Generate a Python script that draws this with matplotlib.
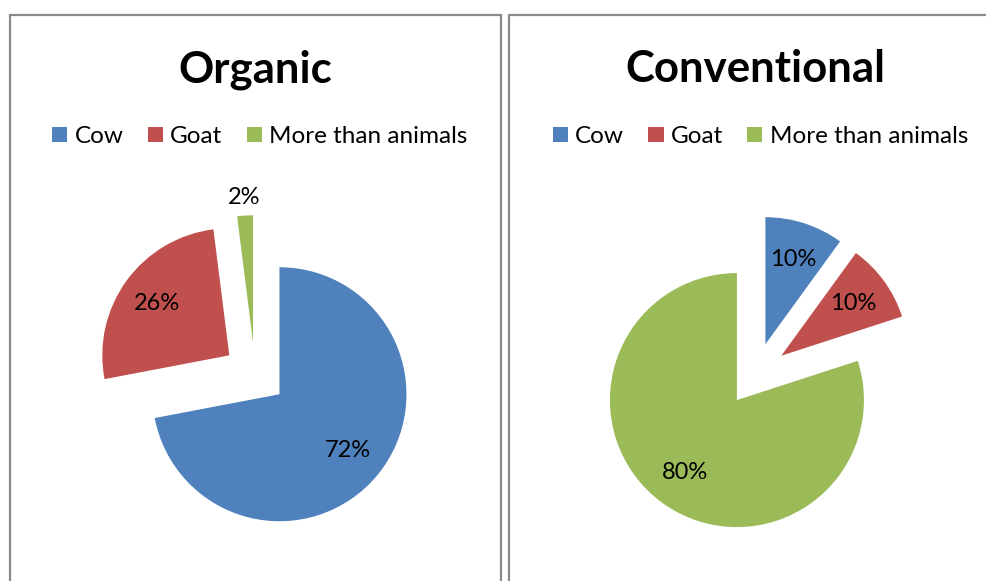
import matplotlib
matplotlib.use('Agg')
import matplotlib.pyplot as plt
from matplotlib.lines import Line2D
import numpy as np

categories = ['Cow', 'Goat', 'More than animals']
organic = [72, 26, 2]
conventional = [10, 10, 80]
titles = ['Organic', 'Conventional']
colors = ['#4F81BD', '#C0504D', '#9BBB59']

plt.rcParams['font.family'] = ['Lato', 'DejaVu Sans']

W, H = 987, 581
fig = plt.figure(figsize=(W / 100, H / 100), dpi=100)

R = 127.0  # pie radius in pixels


def fx(x):
    return x / W


def fy(y):
    return (H - y) / H


# panel borders
border = dict(color='#8a8a8a', linewidth=1.6, transform=fig.transFigure, solid_capstyle='butt')
fig.add_artist(Line2D([fx(9.5), fx(9.5)], [fy(14), fy(H + 5)], **border))
fig.add_artist(Line2D([fx(9.5), fx(501)], [fy(14.5), fy(14.5)], **border))
fig.add_artist(Line2D([fx(501), fx(501)], [fy(14), fy(H + 5)], **border))
fig.add_artist(Line2D([fx(509), fx(509)], [fy(14), fy(H + 5)], **border))
fig.add_artist(Line2D([fx(509), fx(W + 5)], [fy(14.5), fy(14.5)], **border))


def draw_panel(cx, cy, title, values, legend_cx, outside=None):
    half = 230
    ax = fig.add_axes([fx(cx - half), fy(cy + half), 2 * half / W, 2 * half / H])
    wedges, texts, autotexts = ax.pie(
        values, colors=colors, startangle=90, counterclock=False,
        explode=[0.25] * len(values), radius=1,
        autopct=lambda p: '%d%%' % round(p), pctdistance=0.7,
        wedgeprops=dict(linewidth=0),
        textprops=dict(fontsize=17, color='black'))
    lim = half / R
    ax.set_xlim(-lim, lim)
    ax.set_ylim(-lim, lim)
    ax.set_aspect('equal')
    ax.axis('off')
    for w in wedges:
        w.set_clip_on(False)
    if outside is not None:
        w = wedges[outside]
        th = np.deg2rad((w.theta1 + w.theta2) / 2)
        c = w.center
        autotexts[outside].set_position((c[0] + 1.14 * np.cos(th), c[1] + 1.14 * np.sin(th)))
    fig.text(fx(cx), fy(82), title, fontsize=31.5, fontweight='bold', ha='center', va='baseline')
    ax.legend(wedges, categories, ncol=3, loc='center', frameon=False,
              bbox_to_anchor=(fx(legend_cx), fy(136.5)), bbox_transform=fig.transFigure,
              fontsize=17.5, handlelength=0.62, handleheight=0.62, handletextpad=0.3,
              columnspacing=1.0, borderpad=0, borderaxespad=0)


draw_panel(255, 374, titles[0], organic, 260, outside=2)
draw_panel(755.6, 374.4, titles[1], conventional, 760.5)

fig.savefig('out.png', dpi=100, facecolor='white')
